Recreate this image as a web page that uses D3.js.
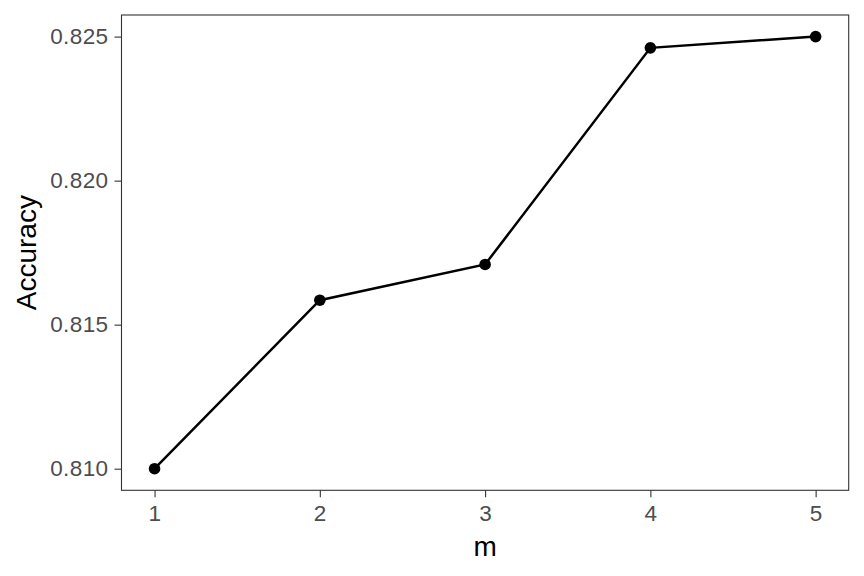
<!DOCTYPE html>
<html><head><meta charset="utf-8">
<script src="https://cdn.jsdelivr.net/npm/d3@7"></script>
<style>body{margin:0;background:#fff}</style>
</head><body>
<svg id="c" width="864" height="576"></svg>
<script>
const mValues = [1, 2, 3, 4, 5];
const accuracy = [0.8100, 0.81585, 0.81709, 0.82461, 0.8250];
const yTicks = [0.810, 0.815, 0.820, 0.825];
const xTicks = [1, 2, 3, 4, 5];

const svg = d3.select("#c");
const L = 121.5, R = 848.7, T = 15, B = 490.3;
const x = d3.scaleLinear().domain([0.8, 5.2]).range([L, R]);
const y = d3.scaleLinear().domain([0.80925, 0.82575]).range([B, T]);
const font = "'Liberation Sans', Arial, sans-serif";

svg.append("rect").attr("width",864).attr("height",576).attr("fill","#fff");

const gx = svg.append("g").attr("transform",`translate(0,${B})`)
  .call(d3.axisBottom(x).tickValues(xTicks).tickFormat(d3.format("d")).tickSize(7).tickPadding(7.5));
const gy = svg.append("g").attr("transform",`translate(${L},0)`)
  .call(d3.axisLeft(y).tickValues(yTicks).tickFormat(d3.format(".3f")).tickSize(7).tickPadding(6));
[gx, gy].forEach(g => {
  g.select(".domain").remove();
  g.attr("font-size", null).attr("font-family", null);
  g.selectAll(".tick line").attr("stroke","#333").attr("stroke-width",1.1);
  g.selectAll(".tick text").attr("fill","#4d4d4d").style("font-family",font).style("font-size","22.5px").style("letter-spacing","0.4px");
});

svg.append("rect").attr("x",L).attr("y",T).attr("width",R-L).attr("height",B-T)
  .attr("fill","none").attr("stroke","#333").attr("stroke-width",1.1);

const data = mValues.map((m,i)=>({m, a: accuracy[i]}));
svg.append("path").datum(data)
  .attr("d", d3.line().x(d=>x(d.m)).y(d=>y(d.a)))
  .attr("fill","none").attr("stroke","#000").attr("stroke-width",2.5);
svg.selectAll("circle.pt").data(data).join("circle").attr("class","pt")
  .attr("cx",d=>x(d.m)).attr("cy",d=>y(d.a)).attr("r",5.8).attr("fill","#000");

svg.append("text").attr("x",(L+R)/2).attr("y",556).attr("text-anchor","middle")
  .style("font-family",font).style("font-size","28px").attr("fill","#000").text("m");
svg.append("text").attr("transform",`translate(36,${(T+B)/2}) rotate(-90)`).attr("text-anchor","middle")
  .style("font-family",font).style("font-size","28px").attr("fill","#000").text("Accuracy");
</script>
</body></html>
